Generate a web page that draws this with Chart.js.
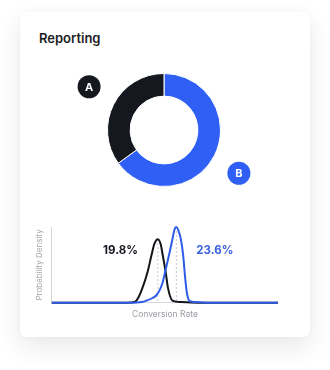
<!DOCTYPE html>
<html>
<head>
<meta charset="utf-8">
<script src="https://cdn.jsdelivr.net/npm/chart.js@4.4.1/dist/chart.umd.min.js"></script>
<style>
  body { margin: 0; background: #fff; width: 330px; height: 370px; position: relative; overflow: hidden; font-family: Inter, sans-serif; }
  .card { position: absolute; left: 20px; top: 12px; width: 290px; height: 325px; background: #fff; border-radius: 6px;
          box-shadow: 0 10px 26px rgba(0, 0, 0, 0.09), 0 0 6px rgba(0, 0, 0, 0.03); }
  .title { position: absolute; left: 39px; top: 30px; font: 600 13px Inter, sans-serif; line-height: 16px; color: #1a1d23; }
  canvas { position: absolute; }
  #donut { left: 61px; top: 60px; }
  #density { left: 0; top: 210px; }
</style>
</head>
<body>
<div class="card"></div>
<div class="title">Reporting</div>
<canvas id="donut" width="206" height="140"></canvas>
<canvas id="density" width="330" height="130"></canvas>
<script>
// donut: variant share
const variants = ['B', 'A'];
const shares = [65, 35];
const variantColors = ['#2f5ff4', '#15181e'];

// posterior curves (conversion rate %, relative density)
const rateA = [-2, 13.5, 15.0, 15.8, 16.6, 17.7, 18.5, 19.1, 19.8, 20.4, 20.8, 21.4, 21.9, 22.8, 24.5, 28.5, 44.5];
const densA = [0, 0, 0.01, 0.07, 0.19, 0.41, 0.63, 0.78, 0.84, 0.77, 0.63, 0.41, 0.19, 0.03, 0.01, 0, 0];
const rateB = [-2, 14, 16.5, 17.5, 18.6, 19.5, 20.2, 20.8, 21.3, 22.1, 22.8, 23.2, 23.6, 24.0, 24.5, 25.0, 25.4, 25.8, 26.4, 27.5, 31.5, 44.5];
const densB = [0, 0, 0.01, 0.03, 0.06, 0.10, 0.17, 0.27, 0.41, 0.63, 0.84, 0.96, 1.0, 0.96, 0.85, 0.63, 0.34, 0.12, 0.02, 0.01, 0, 0];
const peakRates = [19.8, 23.6];
const peakLabels = ['19.8%', '23.6%'];

Chart.defaults.font.family = 'Inter, sans-serif';

// letter badges outside each arc
const badgePlugin = {
    id: 'badges',
    afterDatasetsDraw(chart) {
        const ctx = chart.ctx;
        const arcs = chart.getDatasetMeta(0).data;
        arcs.forEach((arc, i) => {
            const mid = (arc.startAngle + arc.endAngle) / 2 + 3 * Math.PI / 180;
            const r = arc.outerRadius + 30;
            const x = arc.x + Math.cos(mid) * r;
            const y = arc.y + Math.sin(mid) * r;
            ctx.save();
            ctx.beginPath();
            ctx.arc(x, y, 11.5, 0, Math.PI * 2);
            ctx.fillStyle = variantColors[i];
            ctx.fill();
            ctx.fillStyle = '#fff';
            ctx.font = '700 11px Inter, sans-serif';
            ctx.textAlign = 'center';
            ctx.textBaseline = 'middle';
            ctx.fillText(variants[i], x, y + 0.5);
            ctx.restore();
        });
    }
};

new Chart(document.getElementById('donut'), {
    type: 'doughnut',
    data: {
        labels: variants,
        datasets: [{
            data: shares,
            backgroundColor: variantColors,
            borderColor: '#fff',
            borderWidth: 1
        }]
    },
    options: {
        responsive: false,
        animation: false,
        cutout: '60%',
        layout: { padding: { top: 13, bottom: 13 } },
        plugins: { legend: { display: false }, tooltip: { enabled: false } }
    },
    plugins: [badgePlugin]
});

// dashed guides at the peaks + value labels
const peakPlugin = {
    id: 'peaks',
    beforeDatasetsDraw(chart) {
        const ctx = chart.ctx;
        const xs = chart.scales.x, ys = chart.scales.y;
        const dens = [densA, densB];
        peakRates.forEach((p, i) => {
            const x = xs.getPixelForValue(p);
            ctx.save();
            ctx.strokeStyle = '#c4c6cc';
            ctx.lineWidth = 1;
            ctx.setLineDash([2, 2]);
            ctx.beginPath();
            ctx.moveTo(x, ys.getPixelForValue(Math.max(...dens[i])));
            ctx.lineTo(x, ys.getPixelForValue(0));
            ctx.stroke();
            ctx.restore();
        });
    },
    afterDatasetsDraw(chart) {
        const ctx = chart.ctx;
        const xs = chart.scales.x;
        ctx.save();
        ctx.font = '700 11.5px Inter, sans-serif';
        ctx.textBaseline = 'middle';
        ctx.fillStyle = '#15181e';
        ctx.textAlign = 'right';
        ctx.fillText(peakLabels[0], xs.getPixelForValue(peakRates[0]) - 20, 41);
        ctx.fillStyle = '#3a63dc';
        ctx.textAlign = 'left';
        ctx.fillText(peakLabels[1], xs.getPixelForValue(peakRates[1]) + 20, 41);
        ctx.restore();
    }
};

new Chart(document.getElementById('density'), {
    type: 'line',
    data: {
        datasets: [
            {
                label: 'B',
                data: rateB.map((x, i) => ({ x: x, y: densB[i] })),
                borderColor: '#2f5ce6',
                borderWidth: 2,
                pointRadius: 0,
                cubicInterpolationMode: 'monotone',
                clip: false
            },
            {
                label: 'A',
                data: rateA.map((x, i) => ({ x: x, y: densA[i] })),
                borderColor: '#121419',
                borderWidth: 2,
                pointRadius: 0,
                cubicInterpolationMode: 'monotone',
                clip: false
            }
        ]
    },
    options: {
        responsive: false,
        animation: false,
        layout: { padding: { left: 31, right: 52, top: 17, bottom: 18 } },
        scales: {
            x: {
                type: 'linear',
                min: -2,
                max: 44.5,
                ticks: { display: false },
                grid: { display: false, drawTicks: false },
                border: { display: true, color: '#d5d7dc' },
                title: { display: true, text: 'Conversion Rate', color: '#9a9da5', font: { size: 8.5 }, padding: { top: 7, bottom: 2 } }
            },
            y: {
                min: 0,
                max: 1,
                ticks: { display: false },
                grid: { display: false, drawTicks: false },
                border: { display: true, color: '#d5d7dc' },
                title: { display: true, text: 'Probability Density', color: '#a3a6ad', font: { size: 8 }, padding: { top: 4, bottom: 7.2 } }
            }
        },
        plugins: { legend: { display: false }, tooltip: { enabled: false } }
    },
    plugins: [peakPlugin]
});
</script>
</body>
</html>
